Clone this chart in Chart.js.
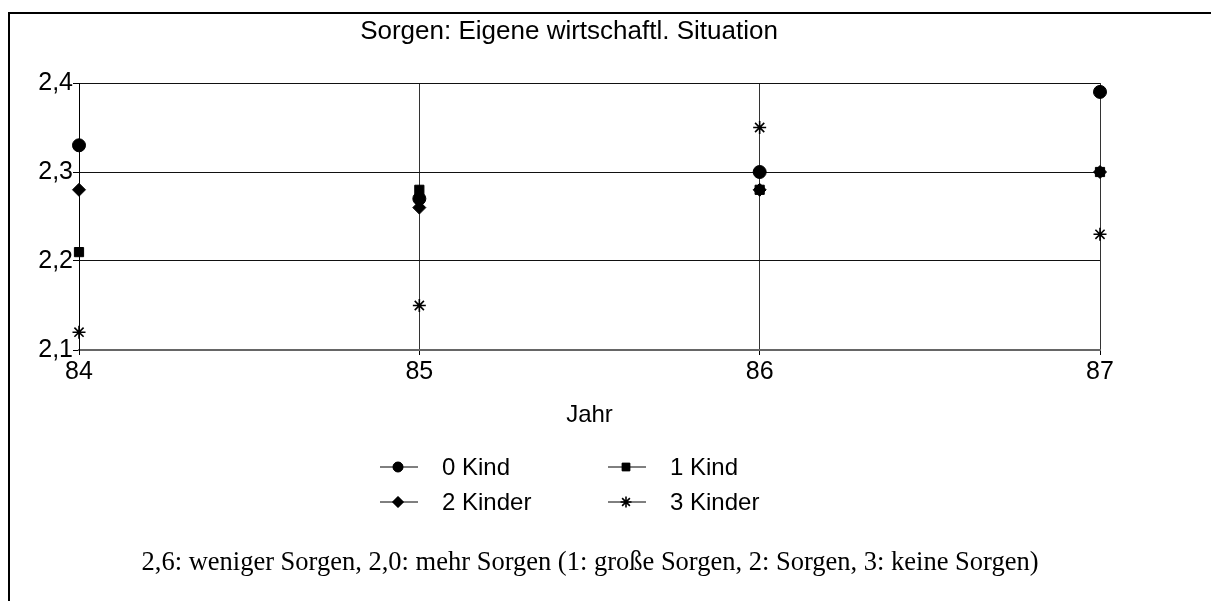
<!DOCTYPE html>
<html>
<head>
<meta charset="utf-8">
<script src="https://cdn.jsdelivr.net/npm/chart.js@4/dist/chart.umd.min.js"></script>
<style>
  html, body { margin: 0; padding: 0; background: #fff; }
  #wrap { position: relative; width: 1211px; height: 601px; }
  #frame { position: absolute; left: 8px; top: 12px; right: 0; bottom: -4px;
    border-left: 2px solid #000; border-top: 2px solid #000; pointer-events: none; }
  canvas { position: absolute; left: 0; top: 0; }
</style>
</head>
<body>
<div id="wrap">
  <canvas id="myChart" width="1211" height="601"></canvas>
  <div id="frame"></div>
</div>
<script>
const chartTitle = 'Sorgen: Eigene wirtschaftl. Situation';
const axisTitle = 'Jahr';
const footNote = '2,6: weniger Sorgen, 2,0: mehr Sorgen (1: große Sorgen, 2: Sorgen, 3: keine Sorgen)';

const years = [84, 85, 86, 87];
const kind0 = [2.33, 2.27, 2.30, 2.39];
const kind1 = [2.21, 2.28, 2.28, 2.30];
const kind2 = [2.28, 2.26, 2.28, 2.30];
const kind3 = [2.12, 2.15, 2.35, 2.23];
const seriesNames = ['0 Kind', '1 Kind', '2 Kinder', '3 Kinder'];

const font = 'Liberation Sans, Arial, sans-serif';

function pairs(values) {
  return years.map((y, i) => ({ x: y, y: values[i] }));
}

const styles = [
  { pointStyle: 'circle', radius: 6.5, border: 1 },
  { pointStyle: 'rect', radius: 6.5, border: 1 },
  { pointStyle: 'rectRot', radius: 6.5, border: 1 },
  { pointStyle: 'star', radius: 6.5, border: 1.6 },
];

// title, legend and note under the chart
const extras = {
  id: 'extras',
  afterDraw(chart) {
    const { ctx } = chart;
    ctx.save();
    ctx.fillStyle = '#000';
    ctx.textBaseline = 'middle';
    ctx.font = '26px ' + font;
    ctx.textAlign = 'center';
    ctx.fillText(chartTitle, 569, 32);

    const cols = [380, 608];
    const rows = [467, 502];
    ctx.font = '24px ' + font;
    seriesNames.forEach((name, i) => {
      const x = cols[i % 2];
      const y = rows[Math.floor(i / 2)];
      ctx.strokeStyle = '#000';
      ctx.lineWidth = 1;
      ctx.beginPath();
      ctx.moveTo(x, y);
      ctx.lineTo(x + 38, y);
      ctx.stroke();
      ctx.fillStyle = '#000';
      const s = styles[i];
      ctx.lineWidth = s.border;
      Chart.helpers.drawPoint(ctx, {
        pointStyle: s.pointStyle, radius: s.pointStyle === 'circle' ? 5 : 5.5,
        rotation: 0, borderWidth: s.border,
      }, x + 18, y);
      if (s.pointStyle !== 'star') ctx.fill();
      ctx.textAlign = 'left';
      ctx.fillText(name, x + 62, y + 1);
    });

    ctx.font = '26.5px Liberation Serif, Times New Roman, serif';
    ctx.textAlign = 'center';
    ctx.fillText(footNote, 590, 563);
    ctx.restore();
  },
};

const ctx = document.getElementById('myChart').getContext('2d');
const chart = new Chart(ctx, {
  type: 'scatter',
  data: {
    datasets: [kind0, kind1, kind2, kind3].map((vals, i) => ({
      label: seriesNames[i],
      data: pairs(vals),
      clip: false,
      pointStyle: styles[i].pointStyle,
      pointRadius: styles[i].radius,
      pointHoverRadius: styles[i].radius,
      backgroundColor: '#000',
      borderColor: '#000',
      pointBorderWidth: styles[i].border,
      showLine: false,
    })),
  },
  options: {
    responsive: false,
    animation: false,
    layout: { padding: { left: 0, right: 111, top: 83, bottom: 171 } },
    plugins: {
      legend: { display: false },
      title: { display: false },
      tooltip: { enabled: false },
    },
    scales: {
      x: {
        type: 'linear',
        min: 84,
        max: 87,
        afterFit(scale) { scale.height = 80; },
        ticks: {
          stepSize: 1,
          color: '#000',
          padding: 2,
          font: { family: font, size: 25 },
        },
        grid: { color: '#333', lineWidth: 1, tickLength: 5, tickColor: '#000' },
        border: { color: '#666', width: 2 },
        title: {
          display: true,
          text: axisTitle,
          color: '#000',
          font: { family: font, size: 24 },
          padding: { top: 4, bottom: 0 },
        },
      },
      y: {
        min: 2.1,
        max: 2.4,
        afterFit(scale) { scale.width = 79; },
        ticks: {
          stepSize: 0.1,
          color: '#000',
          padding: 0,
          font: { family: font, size: 25 },
          callback: (v) => v.toFixed(1).replace('.', ','),
        },
        grid: { color: '#111', lineWidth: 1, tickLength: 6, tickColor: '#000' },
        border: { color: '#000', width: 1 },
      },
    },
  },
  plugins: [extras],
});
</script>
</body>
</html>
